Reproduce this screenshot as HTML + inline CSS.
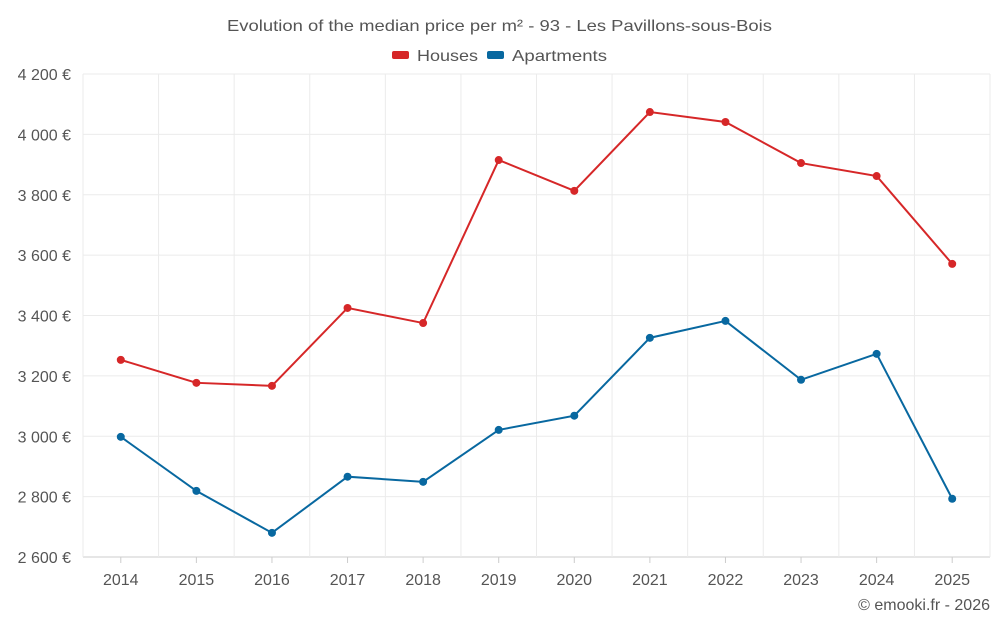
<!DOCTYPE html>
<html><head><meta charset="utf-8"><style>
body{margin:0;background:#fff;font-family:"Liberation Sans",sans-serif}
svg{display:block}
</style></head><body>
<svg id="chart" width="1000" height="625">
<text x="227" y="31" textLength="545" lengthAdjust="spacingAndGlyphs" font-size="16" fill="#555">Evolution of the median price per m² - 93 - Les Pavillons-sous-Bois</text>
<g>
<g><rect x="392" y="51" width="17" height="8" rx="2" fill="#d62728"/><text x="417" y="61" textLength="61" lengthAdjust="spacingAndGlyphs" font-size="16" fill="#555">Houses</text></g>
<g><rect x="487" y="51" width="17" height="8" rx="2" fill="#0868a0"/><text x="512" y="61" textLength="95" lengthAdjust="spacingAndGlyphs" font-size="16" fill="#555">Apartments</text></g>
</g>
<g id="grid"></g><g id="axes"></g><g id="series"></g>
<text x="990" y="610" text-anchor="end" font-size="16" fill="#555">© emooki.fr - 2026</text>
</svg>
<script>
const years=[2014,2015,2016,2017,2018,2019,2020,2021,2022,2023,2024,2025];
const houses=[3253,3177,3167,3425,3375,3915,3813,4074,4041,3905,3862,3571];
const apartments=[2998,2819,2680,2866,2849,3021,3068,3326,3382,3187,3273,2793];
const yTicks=[2600,2800,3000,3200,3400,3600,3800,4000,4200];
const NS="http://www.w3.org/2000/svg";
const L=83,R=990,T=74,B=557,yMin=2600,yMax=4200;
const step=(R-L)/years.length;
const x=i=>L+step*(i+0.5);
const y=v=>B-(v-yMin)/(yMax-yMin)*(B-T);
function mk(tag,attrs,parent){const e=document.createElementNS(NS,tag);for(const k in attrs)e.setAttribute(k,attrs[k]);parent.appendChild(e);return e;}
const grid=document.getElementById('grid'),axes=document.getElementById('axes'),ser=document.getElementById('series');
yTicks.forEach(t=>{
 const l=mk('line',{x1:L,x2:R,y1:y(t),y2:y(t),stroke:t===yMin?'#ccc':'#ebebeb'},grid);
 
 
 const tx=mk('text',{x:L-12,y:y(t)+6,'text-anchor':'end','font-size':16,fill:'#555'},axes);
 tx.textContent=t.toLocaleString('fr-FR').replace(/\u202f|\u00a0/g,' ')+' €';
 
 
});
for(let i=0;i<=years.length;i++){
 const l=mk('line',{x1:L+step*i,x2:L+step*i,y1:T,y2:B,stroke:'#ebebeb'},grid);
 
 
}
years.forEach((yr,i)=>{
 const tk=mk('line',{x1:x(i),x2:x(i),y1:B,y2:B+6,stroke:'#ccc'},axes);
 
 
 const tx=mk('text',{x:x(i),y:B+28,'text-anchor':'middle','font-size':16,fill:'#555'},axes);
 tx.textContent=yr;
 
 
});
function draw(data,color,name){
 const p=mk('polyline',{points:data.map((v,i)=>x(i)+','+y(v)).join(' '),fill:'none',stroke:color,'stroke-width':2},ser);
 
 
 data.forEach((v,i)=>{
  const c=mk('circle',{cx:x(i),cy:y(v),r:4,fill:color},ser);
  
  
 });
}
draw(houses,'#d62728','houses');
draw(apartments,'#0868a0','apartments');
</script>
</body></html>
